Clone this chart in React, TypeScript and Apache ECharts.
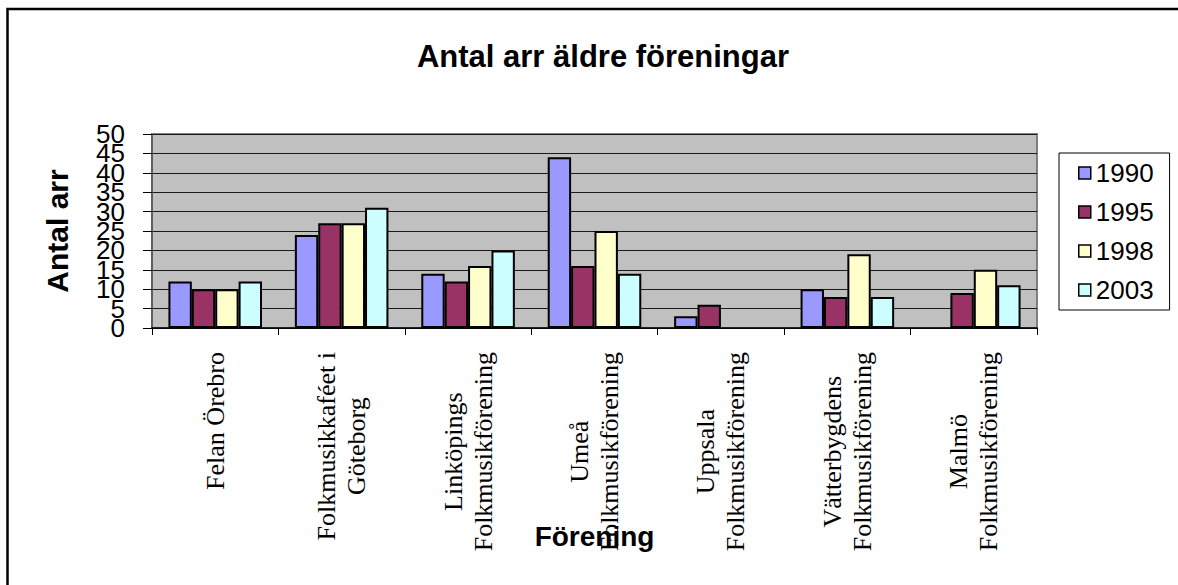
import React, { useEffect, useRef } from 'react';
import * as echarts from 'echarts';

const chartTitle = 'Antal arr äldre föreningar';
const yAxisName = 'Antal arr';
const xAxisName = 'Förening';

const categories = [
  'Felan Örebro',
  'Folkmusikkaféet i\nGöteborg',
  'Linköpings\nFolkmusikförening',
  'Umeå\nFolkmusikförening',
  'Uppsala\nFolkmusikförening',
  'Vätterbygdens\nFolkmusikförening',
  'Malmö\nFolkmusikförening',
];

const years = ['1990', '1995', '1998', '2003'];

const values1990 = [12, 24, 14, 44, 3, 10, null];
const values1995 = [10, 27, 12, 16, 6, 8, 9];
const values1998 = [10, 27, 16, 25, null, 19, 15];
const values2003 = [12, 31, 20, 14, null, 8, 11];

const seriesValues = [values1990, values1995, values1998, values2003];
const seriesColors = ['#9999FF', '#993366', '#FFFFCC', '#CCFFFF'];

const yMin = 0;
const yMax = 50;
const yInterval = 5;

const SANS = '"Liberation Sans", Arial, sans-serif';
const SERIF = '"Liberation Serif", "Times New Roman", serif';

export default function App() {
  const ref = useRef<HTMLDivElement>(null);

  useEffect(() => {
    if (!ref.current) return;
    const chart = echarts.init(ref.current, null, { renderer: 'svg' });

    const yLabelStyle = {
      margin: 27,
      color: '#000',
      fontFamily: SANS,
      fontSize: 26,
      showMinLabel: true,
      showMaxLabel: true,
      hideOverlap: false,
    };

    const option: any = {
      animation: false,
      backgroundColor: '#ffffff',
      title: {
        text: chartTitle,
        left: 598,
        top: 36,
        textAlign: 'center',
        textStyle: {
          fontFamily: SANS,
          fontSize: 31,
          fontWeight: 'bold',
          color: '#000',
        },
      },
      graphic: [
        {
          type: 'rect',
          silent: true,
          shape: { x: 7.5, y: 9, width: 1400, height: 800 },
          style: { fill: 'none', stroke: '#000', lineWidth: 2.5 },
          z: 100,
        },
      ],
      legend: {
        orient: 'vertical',
        left: 1059,
        top: 153,
        backgroundColor: '#fff',
        borderColor: '#000',
        borderWidth: 1,
        padding: [7, 16, 7, 19],
        itemWidth: 12,
        itemHeight: 12,
        itemGap: 13,
        icon: 'rect',
        data: years,
        itemStyle: { borderColor: '#000', borderWidth: 1.5 },
        textStyle: {
          fontFamily: SANS,
          fontSize: 26,
          color: '#000',
        },
      },
      grid: {
        left: 152,
        right: 141,
        top: 134,
        bottom: 257,
        show: true,
        backgroundColor: '#C0C0C0',
        borderColor: '#808080',
        borderWidth: 2,
      },
      xAxis: {
        type: 'category',
        data: categories,
        name: xAxisName,
        nameLocation: 'middle',
        nameGap: 194,
        nameMoveOverlap: false,
        nameTextStyle: {
          fontFamily: SANS,
          fontSize: 28,
          fontWeight: 'bold',
          color: '#000',
        },
        axisLine: { show: true, lineStyle: { color: '#000', width: 1.5 } },
        axisTick: { show: true, length: 7, lineStyle: { color: '#000', width: 1 } },
        axisLabel: {
          interval: 0,
          rotate: 90,
          align: 'right',
          verticalAlign: 'middle',
          margin: 24,
          color: '#000',
          fontFamily: SERIF,
          fontSize: 26,
          lineHeight: 30,
          formatter: (v: string) =>
            v
              .split('\n')
              .map((l) => `{c|${l}}`)
              .join('\n'),
          rich: {
            c: {
              align: 'center',
              fontFamily: SERIF,
              fontSize: 26,
              lineHeight: 30,
              color: '#000',
            },
          },
        },
        splitLine: { show: false },
      },
      yAxis: [
        {
          type: 'value',
          position: 'left',
          min: yMin,
          max: yMax,
          interval: yInterval,
          name: yAxisName,
          nameLocation: 'middle',
          nameGap: 80,
          nameMoveOverlap: false,
          nameTextStyle: {
            fontFamily: SANS,
            fontSize: 30,
            fontWeight: 'bold',
            color: '#000',
          },
          axisLine: { show: true, lineStyle: { color: '#555', width: 1.5 } },
          axisTick: { show: true, length: 9, lineStyle: { color: '#000', width: 1 } },
          axisLabel: {
            ...yLabelStyle,
            formatter: (v: number) => (v % (yInterval * 2) === 0 ? String(v) : ''),
          },
          splitLine: { show: true, lineStyle: { color: '#1a1a1a', width: 1 } },
        },
        {
          type: 'value',
          position: 'left',
          offset: 0,
          min: yMin,
          max: yMax,
          interval: yInterval,
          axisLine: { show: false },
          axisTick: { show: false },
          splitLine: { show: false },
          axisLabel: {
            ...yLabelStyle,
            formatter: (v: number) => (v % (yInterval * 2) !== 0 ? String(v) : ''),
          },
        },
      ],
      series: years.map((y, i) => ({
        name: y,
        type: 'bar',
        yAxisIndex: 0,
        data: seriesValues[i],
        barGap: '0%',
        barCategoryGap: '26%',
        itemStyle: {
          color: seriesColors[i],
          borderColor: '#000',
          borderWidth: 2,
        },
      })),
    };

    chart.setOption(option);
    return () => {
      chart.dispose();
    };
  }, []);

  return (
    <div
      ref={ref}
      style={{ position: 'fixed', left: 0, top: 0, width: 1178, height: 585 }}
    />
  );
}
